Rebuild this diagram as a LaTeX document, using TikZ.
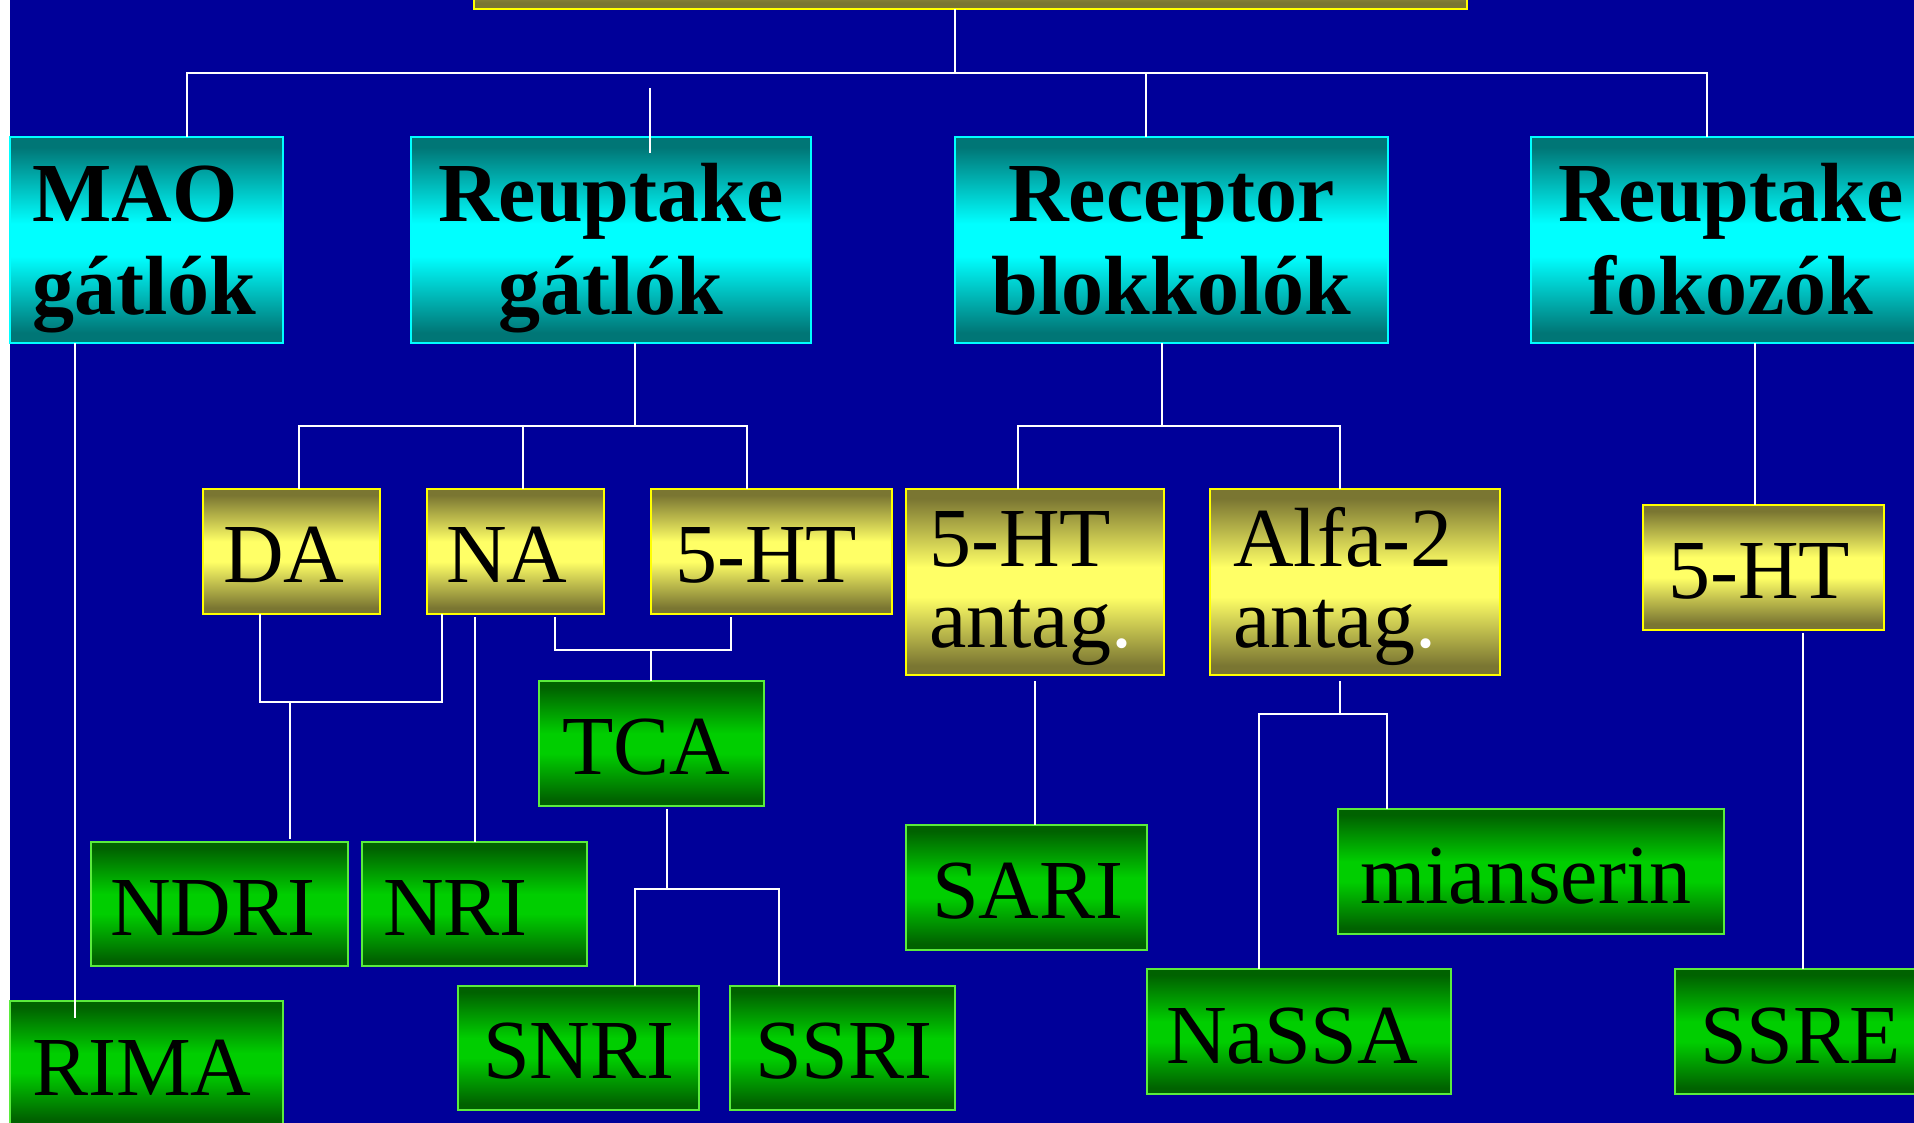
\documentclass[tikz,border=0pt]{standalone}
\usepackage{fontspec}
\setmainfont{Liberation Serif}
\definecolor{bgblue}{RGB}{0,0,153}
\definecolor{tealdark}{RGB}{0,118,118}
\definecolor{cyanmid}{RGB}{0,255,255}
\definecolor{olivedark}{RGB}{122,118,50}
\definecolor{yellowmid}{RGB}{255,255,102}
\definecolor{yellowborder}{RGB}{255,255,0}
\definecolor{greendark}{RGB}{0,98,0}
\definecolor{greenmid}{RGB}{0,206,0}
\definecolor{greenborder}{RGB}{90,235,60}
\pgfdeclareverticalshading{cyanshade}{100bp}{color(0bp)=(tealdark); color(27.5bp)=(tealdark); color(46bp)=(cyanmid); color(54bp)=(cyanmid); color(72.5bp)=(tealdark); color(100bp)=(tealdark)}
\pgfdeclareverticalshading{yellowshade}{100bp}{color(0bp)=(olivedark); color(27.5bp)=(olivedark); color(46bp)=(yellowmid); color(54bp)=(yellowmid); color(72.5bp)=(olivedark); color(100bp)=(olivedark)}
\pgfdeclareverticalshading{greenshade}{100bp}{color(0bp)=(greendark); color(27.5bp)=(greendark); color(46bp)=(greenmid); color(54bp)=(greenmid); color(72.5bp)=(greendark); color(100bp)=(greendark)}
\tikzset{
  cbox/.style={rectangle, draw=cyanmid, line width=2pt, shading=cyanshade, inner sep=0pt, outer sep=0pt},
  ybox/.style={rectangle, draw=yellowborder, line width=2pt, shading=yellowshade, inner sep=0pt, outer sep=0pt},
  gbox/.style={rectangle, draw=greenborder, line width=2pt, shading=greenshade, inner sep=0pt, outer sep=0pt},
  conn/.style={draw=white, line width=1.8pt},
  hd/.style={inner sep=0pt, text=black, font=\bfseries\fontsize{84}{93}\selectfont},
  tx/.style={inner sep=0pt, text=black, font=\fontsize{84}{93}\selectfont}
}
\newcommand\mybox[6]{\node[#2, minimum width={#5-#3}, minimum height={#6-#4}] (#1) at ({(#3+#5)/2},{(#4+#6)/2}) {};}
\begin{document}
\begin{tikzpicture}[x=1pt,y=-1pt]
\useasboundingbox (0,0) rectangle (1914,1123);
\clip (0,0) rectangle (1914,1123);
\fill[bgblue] (0,0) rectangle (1914,1123);
\fill[white] (0,0) rectangle (9.5,1123);

% boxes
\mybox{top}{ybox}{474}{-115}{1467}{9}
\mybox{mao}{cbox}{10}{137}{283}{343}
\mybox{rg}{cbox}{411}{137}{811}{343}
\mybox{rb}{cbox}{955}{137}{1388}{343}
\mybox{rf}{cbox}{1531}{137}{1931}{343}
\mybox{da}{ybox}{203}{489}{380}{614}
\mybox{na}{ybox}{427}{489}{604}{614}
\mybox{ht}{ybox}{651}{489}{892}{614}
\mybox{hta}{ybox}{906}{489}{1164}{675}
\mybox{alfa}{ybox}{1210}{489}{1500}{675}
\mybox{htr}{ybox}{1643}{505}{1884}{630}
\mybox{tca}{gbox}{539}{681}{764}{806}
\mybox{ndri}{gbox}{91}{842}{348}{966}
\mybox{nri}{gbox}{362}{842}{587}{966}
\mybox{rima}{gbox}{10}{1001}{283}{1125}
\mybox{snri}{gbox}{458}{986}{699}{1110}
\mybox{ssri}{gbox}{730}{986}{955}{1110}
\mybox{sari}{gbox}{906}{825}{1147}{950}
\mybox{mian}{gbox}{1338}{809}{1724}{934}
\mybox{nassa}{gbox}{1147}{969}{1451}{1094}
\mybox{ssre}{gbox}{1675}{969}{1916}{1094}

% texts
\node[hd, anchor=base west] (tmao1) at (32,222) {MAO};
\node[hd, anchor=base west] (tmao2) at (32,315) {gátlók};
\node[hd, anchor=base] (trg1) at (611,222) {Reuptake};
\node[hd, anchor=base] (trg2) at (611,315) {gátlók};
\node[hd, anchor=base] (trb1) at (1171.5,222) {Receptor};
\node[hd, anchor=base] (trb2) at (1171.5,315) {blokkolók};
\node[hd, anchor=base] (trf1) at (1731,222) {Reuptake};
\node[hd, anchor=base] (trf2) at (1731,315) {fokozók};
\node[tx, anchor=base west] (tda) at (223,582) {DA};
\node[tx, anchor=base west] (tna) at (446,582) {NA};
\node[tx, anchor=base west] (tht) at (675,582) {5-HT};
\node[tx, anchor=base west] (thta1) at (929,566) {5-HT};
\node[tx, anchor=base west] (thta2) at (929,647) {antag\textcolor{white}{.}};
\node[tx, anchor=base west] (talfa1) at (1233,566) {Alfa-2};
\node[tx, anchor=base west] (talfa2) at (1233,647) {antag\textcolor{white}{.}};
\node[tx, anchor=base west] (thtr) at (1668,598) {5-HT};
\node[tx, anchor=base west] (ttca) at (562,774) {TCA};
\node[tx, anchor=base west] (tndri) at (110,935) {NDRI};
\node[tx, anchor=base west] (tnri) at (383,935) {NRI};
\node[tx, anchor=base west] (trima) at (32,1095) {RIMA};
\node[tx, anchor=base west] (tsnri) at (483,1078) {SNRI};
\node[tx, anchor=base west] (tssri) at (755,1078) {SSRI};
\node[tx, anchor=base west] (tsari) at (932,918) {SARI};
\node[tx, anchor=base west] (tmian) at (1360,903) {mianserin};
\node[tx, anchor=base west] (tnassa) at (1166,1063) {NaSSA};
\node[tx, anchor=base west] (tssre) at (1700,1063) {SSRE};

% connectors
\draw[conn] (955,0 |- top.south) -- (955,73);
\draw[conn] (187,0 |- mao.north) -- (187,73) -- (1707,73) -- (1707,0 |- rf.north);
\draw[conn] (1146,0 |- rb.north) -- (1146,73);
\draw[conn] (650,88) -- (650,153);
\draw[conn] (75,0 |- mao.south) -- (75,1018);
\draw[conn] (635,0 |- rg.south) -- (635,426);
\draw[conn] (299,0 |- da.north) -- (299,426) -- (747,426) -- (747,0 |- ht.north);
\draw[conn] (523,0 |- na.north) -- (523,426);
\draw[conn] (260,0 |- da.south) -- (260,702) -- (442,702) -- (442,0 |- na.south);
\draw[conn] (290,702) -- (290,839);
\draw[conn] (475,617) -- (475,0 |- nri.north);
\draw[conn] (555,617) -- (555,650) -- (731,650) -- (731,617);
\draw[conn] (651,650) -- (651,0 |- tca.north);
\draw[conn] (667,809) -- (667,889);
\draw[conn] (635,0 |- snri.north) -- (635,889) -- (779,889) -- (779,0 |- ssri.north);
\draw[conn] (1162,0 |- rb.south) -- (1162,426);
\draw[conn] (1018,0 |- hta.north) -- (1018,426) -- (1340,426) -- (1340,0 |- alfa.north);
\draw[conn] (1035,681) -- (1035,0 |- sari.north);
\draw[conn] (1340,681) -- (1340,714);
\draw[conn] (1259,0 |- nassa.north) -- (1259,714) -- (1387,714) -- (1387,0 |- mian.north);
\draw[conn] (1755,0 |- rf.south) -- (1755,0 |- htr.north);
\draw[conn] (1803,633) -- (1803,0 |- ssre.north);
\end{tikzpicture}
\end{document}
